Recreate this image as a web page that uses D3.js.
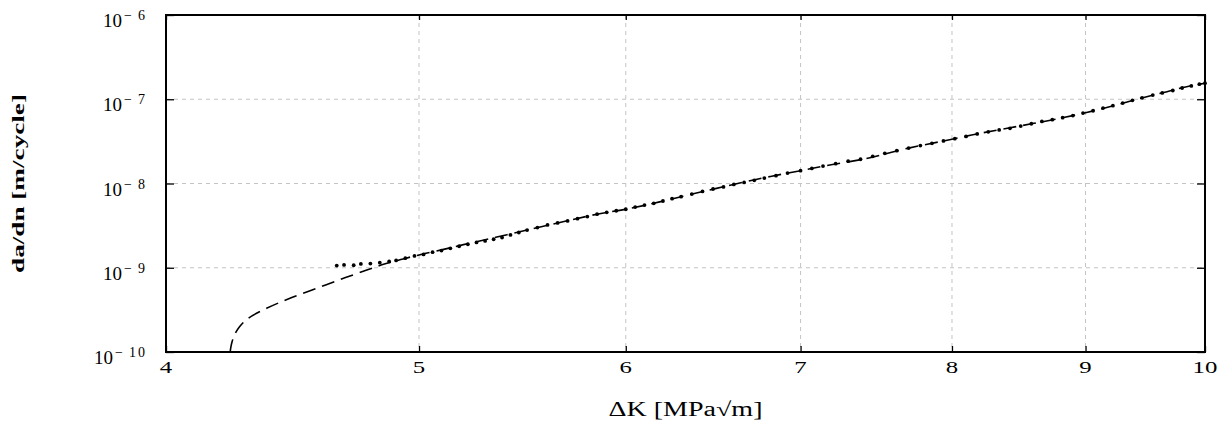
<!DOCTYPE html>
<html>
<head>
<meta charset="utf-8">
<script src="https://cdn.jsdelivr.net/npm/d3@7"></script>
<style>
  html, body { margin: 0; padding: 0; background: #fff; }
  svg { display: block; font-family: "Liberation Serif", "Times New Roman", serif; }
</style>
</head>
<body>
<svg id="chart" width="1228" height="425"></svg>
<script>
// ---- Dados
const xTicks = [4, 5, 6, 7, 8, 9, 10];
const yExponents = [-10, -9, -8, -7, -6];

// curva do modelo (tracejada): ΔK [MPa√m], da/dn [m/cycle]
const modelK = [4.233, 4.235, 4.240, 4.250, 4.268, 4.300, 4.371, 4.462, 4.568, 4.678, 4.775,
    4.846, 4.92, 5.0, 5.1, 5.2, 5.35, 5.5, 5.7, 5.85, 6.0, 6.15, 6.3, 6.5, 6.75, 7.0, 7.2, 7.4,
    7.7, 8.0, 8.2, 8.4, 8.6, 8.8, 9.0, 9.2, 9.45, 9.67, 9.84, 10.0];
const modelRate = [1.0e-10, 1.12e-10, 1.32e-10, 1.62e-10, 2.0e-10, 2.5e-10, 3.3e-10, 4.34e-10,
    5.7e-10, 7.5e-10, 9.4e-10, 1.1e-9, 1.25e-9, 1.42e-9, 1.63e-9, 1.88e-9, 2.3e-9, 2.8e-9,
    3.62e-9, 4.32e-9, 4.95e-9, 5.82e-9, 6.97e-9, 8.75e-9, 1.14e-8, 1.42e-8, 1.68e-8, 1.95e-8,
    2.63e-8, 3.35e-8, 3.94e-8, 4.52e-8, 5.18e-8, 5.94e-8, 6.92e-8, 8.2e-8, 1.03e-7, 1.23e-7,
    1.41e-7, 1.55e-7];

// pontos experimentais
const testK = [4.65, 4.68, 4.72, 4.75, 4.79, 4.83, 4.87, 4.90, 4.94, 4.98, 5.02, 5.06, 5.10,
    5.14, 5.18, 5.22, 5.26, 5.30, 5.34, 5.38, 5.42, 5.46, 5.50, 5.55, 5.60, 5.65, 5.70, 5.75,
    5.80, 5.85, 5.90, 5.95, 6.00, 6.05, 6.10, 6.15, 6.20, 6.25, 6.30, 6.36, 6.42, 6.48, 6.54,
    6.60, 6.66, 6.72, 6.78, 6.85, 6.92, 7.00, 7.07, 7.14, 7.22, 7.30, 7.38, 7.46, 7.54, 7.62,
    7.70, 7.78, 7.86, 7.94, 8.02, 8.10, 8.18, 8.26, 8.34, 8.42, 8.50, 8.58, 8.66, 8.74, 8.82,
    8.90, 8.98, 9.06, 9.14, 9.22, 9.30, 9.38, 9.46, 9.55, 9.63, 9.72, 9.80, 9.88, 9.95, 10.0];
const testRate = [1.06e-9, 1.08e-9, 1.07e-9, 1.11e-9, 1.12e-9, 1.15e-9, 1.19e-9, 1.22e-9,
    1.30e-9, 1.38e-9, 1.44e-9, 1.53e-9, 1.60e-9, 1.70e-9, 1.80e-9, 1.90e-9, 2.00e-9, 2.08e-9,
    2.18e-9, 2.28e-9, 2.45e-9, 2.62e-9, 2.80e-9, 3.00e-9, 3.22e-9, 3.40e-9, 3.60e-9, 3.82e-9,
    4.05e-9, 4.32e-9, 4.55e-9, 4.75e-9, 4.95e-9, 5.25e-9, 5.55e-9, 5.82e-9, 6.20e-9, 6.60e-9,
    6.98e-9, 7.50e-9, 8.05e-9, 8.60e-9, 9.10e-9, 9.75e-9, 1.03e-8, 1.09e-8, 1.16e-8, 1.24e-8,
    1.33e-8, 1.42e-8, 1.51e-8, 1.61e-8, 1.72e-8, 1.84e-8, 1.94e-8, 2.10e-8, 2.28e-8, 2.45e-8,
    2.63e-8, 2.82e-8, 3.00e-8, 3.20e-8, 3.40e-8, 3.62e-8, 3.88e-8, 4.10e-8, 4.32e-8, 4.52e-8,
    4.80e-8, 5.12e-8, 5.45e-8, 5.72e-8, 6.05e-8, 6.40e-8, 6.85e-8, 7.30e-8, 7.85e-8, 8.40e-8,
    9.00e-8, 9.70e-8, 1.04e-7, 1.12e-7, 1.19e-7, 1.27e-7, 1.36e-7, 1.44e-7, 1.51e-7, 1.55e-7];

const margens = { left: 166, right: 23, top: 15, bottom: 73 };

const svg = d3.select('#chart');
const svgWidth = +svg.attr('width');
const svgHeight = +svg.attr('height');
const innerWidth = svgWidth - margens.left - margens.right;
const innerHeight = svgHeight - margens.top - margens.bottom;

const g = svg.append('g')
    .attr('id', 'group')
    .attr('transform', `translate(${margens.left}, ${margens.top})`);

// ---- Escalas (log nos dois eixos)
const mapX = d3.scaleLog().domain([4, 10]).range([0, innerWidth]);
const mapY = d3.scaleLog().domain([1e-10, 1e-6]).range([innerHeight, 0]);
const yTicks = yExponents.map(e => Math.pow(10, e));

// ---- Grade tracejada
const grid = g.append('g').attr('class', 'grid')
    .attr('stroke', '#c4c4c4').attr('stroke-width', 1).attr('stroke-dasharray', '4,4');

grid.selectAll('line.gx')
    .data(xTicks.slice(1, -1))
    .join('line')
    .attr('class', 'gx')
    .attr('x1', d => mapX(d)).attr('x2', d => mapX(d))
    .attr('y1', 0).attr('y2', innerHeight);

grid.selectAll('line.gy')
    .data(yTicks.slice(1, -1))
    .join('line')
    .attr('class', 'gy')
    .attr('x1', 0).attr('x2', innerWidth)
    .attr('y1', d => mapY(d)).attr('y2', d => mapY(d));

// ---- Eixos (ticks para dentro, rótulos desenhados à parte)
const xAxis = d3.axisBottom(mapX).tickValues(xTicks).tickSize(-6).tickSizeOuter(0).tickFormat('');
const groupX = g.append('g')
    .attr('id', 'axisX')
    .attr('transform', `translate(0, ${innerHeight})`)
    .call(xAxis);
groupX.select('.domain').remove();

g.append('g').attr('id', 'axisXTop')
    .call(d3.axisTop(mapX).tickValues(xTicks).tickSize(-5).tickSizeOuter(0).tickFormat(''))
    .select('.domain').remove();

const yAxis = d3.axisLeft(mapY).tickValues(yTicks).tickSize(-8).tickSizeOuter(0).tickFormat('');
const groupY = g.append('g').attr('id', 'axisY').call(yAxis);
groupY.select('.domain').remove();

g.append('g').attr('id', 'axisYRight')
    .attr('transform', `translate(${innerWidth}, 0)`)
    .call(d3.axisRight(mapY).tickValues(yTicks).tickSize(-8).tickSizeOuter(0).tickFormat(''))
    .select('.domain').remove();

g.selectAll('.tick line').attr('stroke', '#000').attr('stroke-width', 1.3);
g.selectAll('.tick text').remove();

// rótulos do eixo x (levemente alargados, como na figura)
svg.append('g').attr('class', 'xlabels')
    .selectAll('text')
    .data(xTicks)
    .join('text')
    .attr('transform', d => `translate(${margens.left + mapX(d)}, ${margens.top + innerHeight + 21}) scale(1.55, 1)`)
    .attr('text-anchor', 'middle')
    .attr('font-size', 16)
    .attr('fill', '#000')
    .text(d => d);

// rótulos 10^n com sobrescrito
const yLabels = svg.append('g').attr('class', 'ylabels')
    .selectAll('text')
    .data(yExponents)
    .join('text')
    .attr('x', margens.left - 19)
    .attr('y', d => margens.top + mapY(Math.pow(10, d)) + 12)
    .attr('text-anchor', 'end')
    .attr('fill', '#000');
yLabels.append('tspan').attr('font-size', 19).text('10');
yLabels.append('tspan').attr('font-size', 14).attr('dx', 2).attr('dy', -7).text('\u2212');
yLabels.append('tspan').attr('font-size', 14).attr('dx', 6).attr('letter-spacing', 2)
    .text(d => String(Math.abs(d)));

// ---- Curva do modelo (tracejada)
const modelData = modelK.map((k, i) => ({ k, r: modelRate[i] }));
const line = d3.line()
    .x(d => mapX(d.k))
    .y(d => mapY(d.r))
    .curve(d3.curveCatmullRom.alpha(0.5));

g.append('path')
    .datum(modelData)
    .attr('class', 'line')
    .attr('d', line)
    .style('fill', 'none')
    .style('stroke', 'black')
    .style('stroke-width', 1.6)
    .style('stroke-dasharray', '13,7');

// ---- Pontos experimentais
const testData = testK.map((k, i) => ({ k, r: testRate[i] }));
g.append('g').attr('class', 'points')
    .selectAll('circle')
    .data(testData)
    .join('circle')
    .attr('cx', d => mapX(d.k))
    .attr('cy', d => mapY(d.r))
    .attr('r', 1.9)
    .attr('fill', '#000');

// ---- Moldura
g.append('rect')
    .attr('width', innerWidth)
    .attr('height', innerHeight)
    .attr('fill', 'none')
    .attr('stroke', '#000')
    .attr('stroke-width', 2);

// ---- Títulos dos eixos
svg.append('text')
    .attr('transform', `translate(${margens.left + innerWidth / 2}, 416) scale(1.4, 1)`)
    .attr('text-anchor', 'middle')
    .attr('font-size', 20)
    .text('\u0394K [MPa\u221Am]');

svg.append('text')
    .attr('transform', `translate(24, ${margens.top + innerHeight / 2}) rotate(-90) scale(1.7, 1)`)
    .attr('text-anchor', 'middle')
    .attr('font-size', 16)
    .attr('font-weight', 'bold')
    .text('da/dn [m/cycle]');
</script>
</body>
</html>
